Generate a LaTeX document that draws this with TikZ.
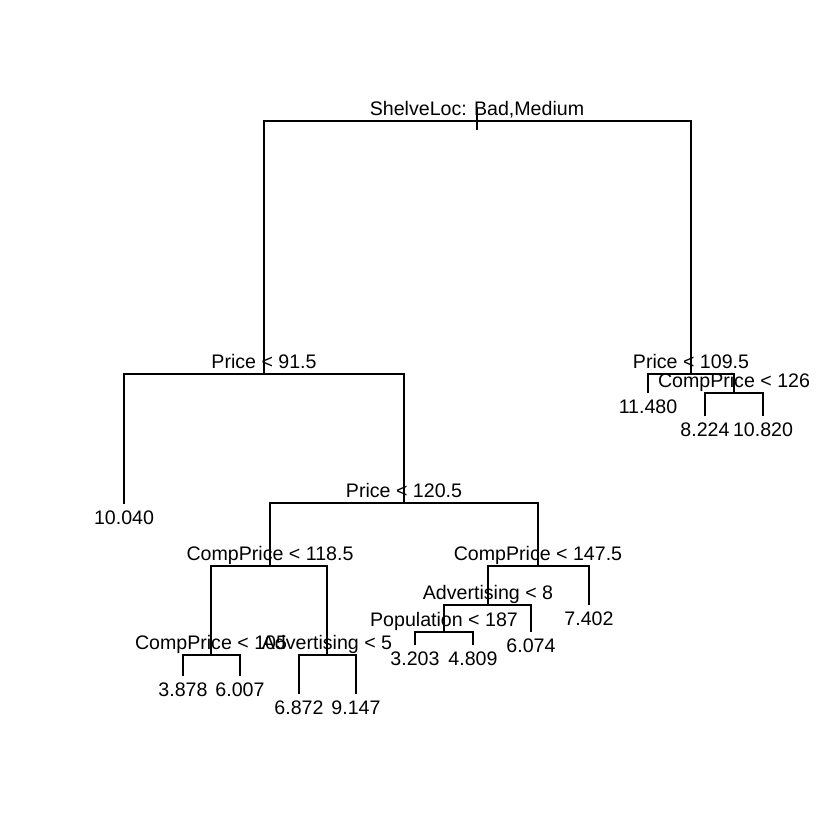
\documentclass[tikz,border=0pt]{standalone}
\usepackage{fontspec}
\setmainfont{Liberation Sans}
\begin{document}
\begin{tikzpicture}[x=0.5pt,y=-0.5pt,
  edge/.style={line width=0.75pt,line cap=butt},
  lab/.style={anchor=base,inner sep=0pt,font=\fontsize{9.8pt}{12pt}\selectfont}]
\useasboundingbox (0,0) rectangle (840,840);
% tree node positions
\coordinate (Rtop) at (477,108);
\coordinate (R) at (477,121);
\coordinate (Rbot) at (477,130);
\coordinate (A) at (264,374);
\coordinate (L1) at (124,504);
\coordinate (B) at (404,503);
\coordinate (C) at (270,566);
\coordinate (E) at (211,655);
\coordinate (L2) at (183,676);
\coordinate (L3) at (240,676);
\coordinate (F) at (327,655);
\coordinate (L4) at (299,694);
\coordinate (L5) at (356,694);
\coordinate (D) at (538,566);
\coordinate (G) at (488,605);
\coordinate (H) at (444,632);
\coordinate (L6) at (415,645);
\coordinate (L7) at (473,645);
\coordinate (L8) at (531,632);
\coordinate (L9) at (589,605);
\coordinate (I) at (691,374);
\coordinate (L10) at (648,393);
\coordinate (J) at (734,393);
\coordinate (L11) at (705,416);
\coordinate (L12) at (763,416);
% connectors
\draw[edge] (Rtop) -- (Rbot);
\draw[edge] (A) |- (R) -| (I);
\draw[edge] (L1) |- (A) -| (B);
\draw[edge] (C) |- (B) -| (D);
\draw[edge] (E) |- (C) -| (F);
\draw[edge] (L2) |- (E) -| (L3);
\draw[edge] (L4) |- (F) -| (L5);
\draw[edge] (G) |- (D) -| (L9);
\draw[edge] (H) |- (G) -| (L8);
\draw[edge] (L6) |- (H) -| (L7);
\draw[edge] (L10) |- (I) -| (J);
\draw[edge] (L11) |- (J) -| (L12);
% split labels
\node[lab] (tR) at (477,116) {ShelveLoc: Bad,Medium};
\node[lab] (tA) at (264,368.5) {Price < 91.5};
\node[lab] (tB) at (404,497.5) {Price < 120.5};
\node[lab] (tC) at (270,560.5) {CompPrice < 118.5};
\node[lab] (tD) at (538,560.5) {CompPrice < 147.5};
\node[lab] (tE) at (211,649.5) {CompPrice < 105};
\node[lab] (tF) at (327,649.5) {Advertising < 5};
\node[lab] (tG) at (488,599.5) {Advertising < 8};
\node[lab] (tH) at (444,626.5) {Population < 187};
\node[lab] (tI) at (691,368.5) {Price < 109.5};
\node[lab] (tJ) at (734,387.5) {CompPrice < 126};
% leaf labels
\node[lab] (tL1) at (124,524.5) {10.040};
\node[lab] (tL2) at (183,696.5) {3.878};
\node[lab] (tL3) at (240,696.5) {6.007};
\node[lab] (tL4) at (299,714.5) {6.872};
\node[lab] (tL5) at (356,714.5) {9.147};
\node[lab] (tL6) at (415,665.5) {3.203};
\node[lab] (tL7) at (473,665.5) {4.809};
\node[lab] (tL8) at (531,652.5) {6.074};
\node[lab] (tL9) at (589,625.5) {7.402};
\node[lab] (tL10) at (648,413.5) {11.480};
\node[lab] (tL11) at (705,436.5) {8.224};
\node[lab] (tL12) at (763,436.5) {10.820};
\end{tikzpicture}
\end{document}
